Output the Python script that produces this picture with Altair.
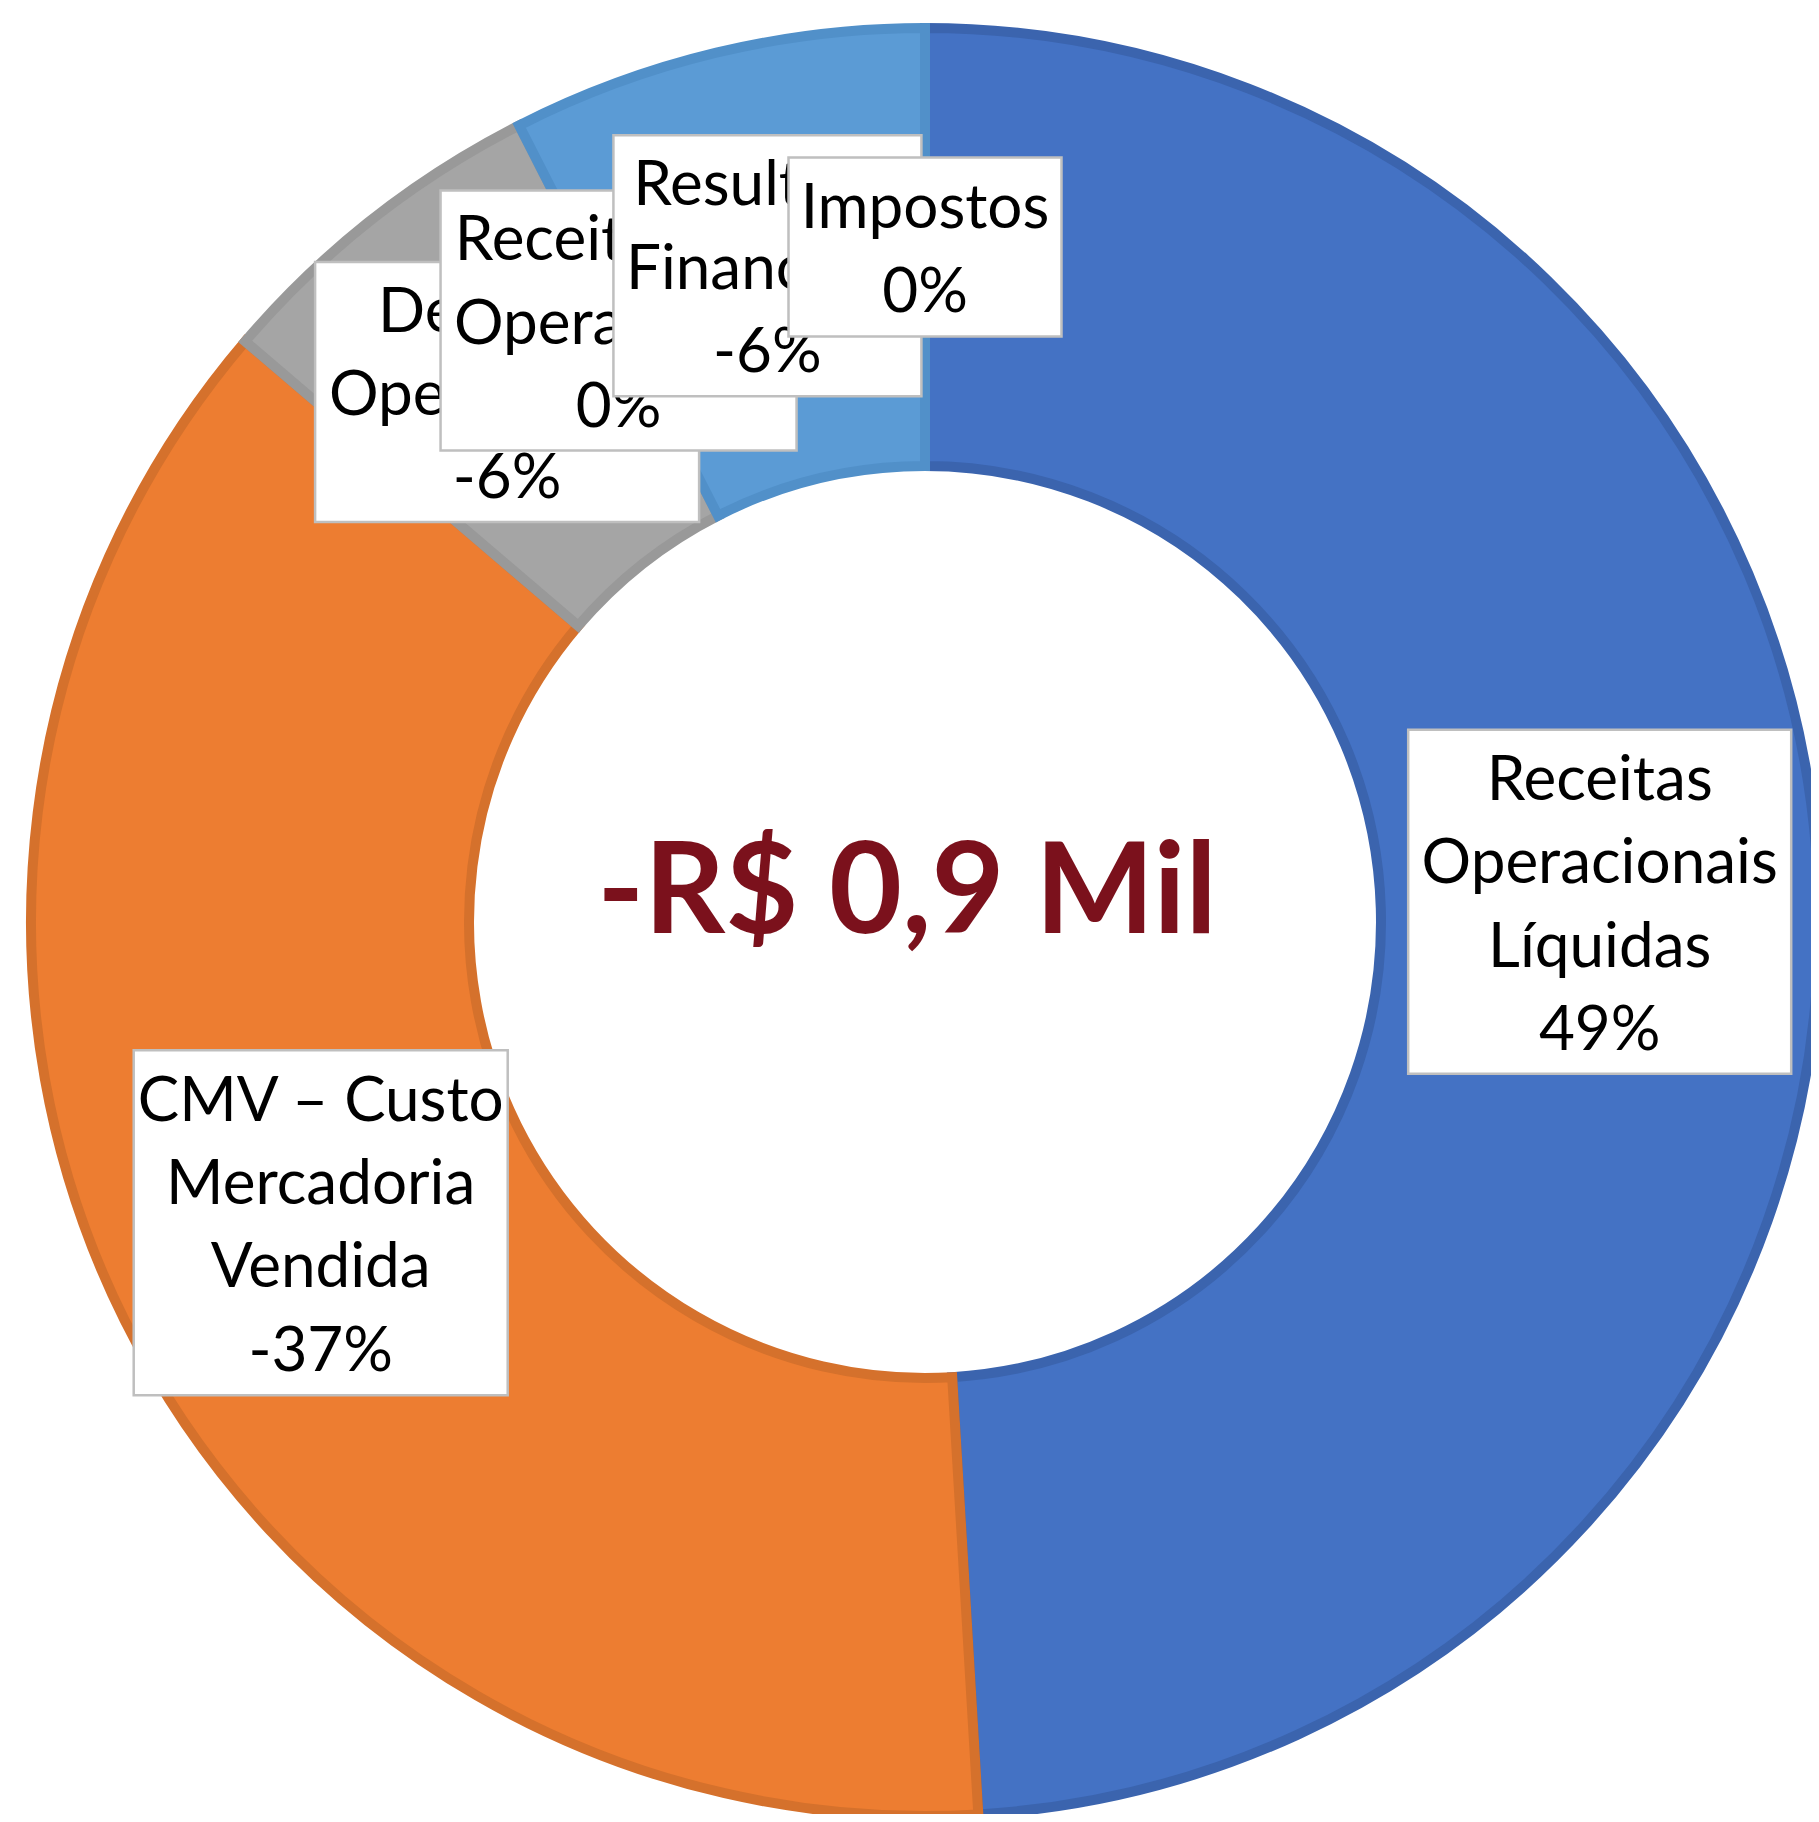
import altair as alt
import pandas as pd

# ---- data ----
categories = [
    "Receitas Operacionais Líquidas",
    "CMV – Custo Mercadoria Vendida",
    "Despesas Operacionais",
    "Receita Não Operacional",
    "Resultado Financeiro",
    "Impostos",
]
shares = [49.05, 37.2, 6.25, 0.0, 7.5, 0.0]          # slice size, % of the ring
pct_labels = ["49%", "-37%", "-6%", "0%", "-6%", "0%"]
label_names = [
    "Receitas\nOperacionais\nLíquidas",
    "CMV – Custo\nMercadoria\nVendida",
    "Despesas\nOperacionais",
    "Receita Não\nOperacional",
    "Resultado\nFinanceiro",
    "Impostos",
]
center_text = "-R$ 0,9 Mil"

# ---- styles / layout ----
fill_colors = ["#4472C4", "#ED7D31", "#A5A5A5", "#FFC000", "#5B9BD5", "#70AD47"]
edge_colors = ["#3B64AE", "#D5712C", "#999999", "#E6AD00", "#5190C9", "#64A03F"]
box_w = [383, 374, 384, 356, 308, 273]
box_h = [344, 345, 260, 260, 261, 179]

W, H = 1803, 1806
CX, CY = 917, 914
R_OUT, R_IN = 894, 456
R_LABEL = 675
LH = 83.3

labels = [n + "\n" + p for n, p in zip(label_names, pct_labels)]
df = pd.DataFrame({
    "idx": list(range(len(categories))),
    "cat": categories,
    "share": shares,
    "label": labels,
    "nlines": [len(s.split("\n")) for s in labels],
    "bw": box_w,
    "bh": box_h,
})

xs = alt.Scale(domain=[-CX, W - CX], nice=False, zero=False)
ys = alt.Scale(domain=[-CY, H - CY], reverse=True, nice=False, zero=False)

ring = alt.Chart(df).mark_arc(radius=R_OUT, radius2=R_IN, strokeWidth=10).encode(
    theta=alt.Theta("share:Q", stack=True),
    order=alt.Order("idx:Q"),
    color=alt.Color("cat:N", scale=alt.Scale(domain=categories, range=fill_colors), legend=None),
    stroke=alt.Stroke("cat:N", scale=alt.Scale(domain=categories, range=edge_colors), legend=None),
    strokeOpacity=alt.condition("datum.share == 0", alt.value(0), alt.value(1)),
    x=alt.value(CX),
    y=alt.value(CY),
)

base = alt.Chart(df).transform_joinaggregate(
    total="sum(share)"
).transform_window(
    cum="sum(share)", sort=[alt.SortField("idx")], frame=[None, 0]
).transform_calculate(
    mid="2*PI*(datum.cum - datum.share/2)/datum.total",
).transform_calculate(
    cx=f"{R_LABEL}*sin(datum.mid)",
    cy=f"-{R_LABEL}*cos(datum.mid)",
).transform_calculate(
    x1="datum.cx - datum.bw/2",
    x2="datum.cx + datum.bw/2",
    y1="datum.cy - datum.bh/2",
    y2="datum.cy + datum.bh/2",
    ty=f"datum.cy - (datum.nlines - 1) * {LH} / 2",
)

layers = [ring]
for i in range(len(categories)):
    sub = base.transform_filter(f"datum.idx == {i}")
    box = sub.mark_rect(fill="white", stroke="#BFBFBF", strokeWidth=2.5).encode(
        x=alt.X("x1:Q", scale=xs, axis=None),
        x2="x2:Q",
        y=alt.Y("y1:Q", scale=ys, axis=None),
        y2="y2:Q",
    )
    txt = sub.mark_text(
        font="Lato", fontSize=62, lineBreak="\n", lineHeight=LH,
        align="center", baseline="middle", dy=4, color="#000000",
    ).encode(
        x=alt.X("cx:Q", scale=xs, axis=None),
        y=alt.Y("ty:Q", scale=ys, axis=None),
        text="label:N",
    )
    layers += [box, txt]

center = alt.Chart(pd.DataFrame({"t": [center_text]})).mark_text(
    font="Lato", fontWeight="bold", fontSize=126, color="#7B111C",
    align="center", baseline="alphabetic",
).encode(
    x=alt.value(CX - 18),
    y=alt.value(CY + 11),
    text="t:N",
)
layers.append(center)

chart = alt.layer(*layers).properties(
    width=W, height=H, padding=0,
    autosize=alt.AutoSizeParams(type="none"),
    background="white",
).configure_view(stroke=None)

chart.save("out.html", embed_options={"renderer": "svg", "actions": False})
